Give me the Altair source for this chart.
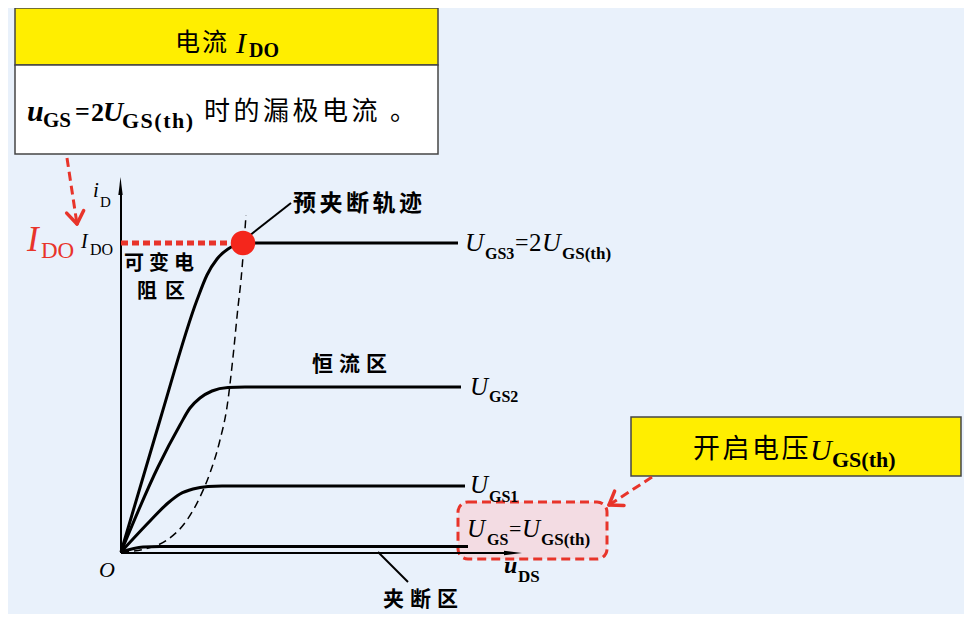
import altair as alt
import pandas as pd
import numpy as np

# ---------------- data (image-pixel coordinates) ----------------
# output characteristic curves i_D(u_DS)
ugs3_x = [121, 160, 197, 207, 217, 228, 240, 260, 458]
ugs3_y = [552, 420, 300, 275, 259, 249, 244, 243, 243]
ugs2_x = [121, 158, 180, 190, 200, 212, 228, 245, 461]
ugs2_y = [552, 467, 425, 408, 398, 391, 387.5, 387, 387]
ugs1_x = [121, 150, 168, 180, 193, 208, 222, 465]
ugs1_y = [552, 521, 503, 494, 489, 486.5, 486, 486]
ugs0_x = [121, 143, 160, 468]
ugs0_y = [552, 547, 546.5, 546.5]
# pre-pinch-off locus (dashed)
locus_x = [121, 145, 167, 187, 200, 210, 220, 227, 233, 238, 241, 243.5, 246]
locus_y = [552, 549, 540, 520, 497, 473, 440, 407, 357, 307, 280, 250, 215]

# I_DO point
ido_x, ido_y = 243, 243

# Chinese labels (text, start x, centre y, pitch, size, weight)
cjk_labels = [
    ("电流", 175, 43, 27, 25, "normal"),
    ("时的漏极电流", 204, 112, 29.5, 26, "normal"),
    ("。", 390, 112, 28, 26, "normal"),
    ("开启电压", 693, 450, 29.5, 27, "normal"),
    ("预夹断轨迹", 293, 204, 26.5, 23, "bold"),
    ("可变电", 124, 264, 25, 20, "bold"),
    ("阻区", 137, 292, 28, 20, "bold"),
    ("恒流区", 312, 365, 27, 21, "bold"),
    ("夹断区", 383, 600, 27, 21, "bold"),
]

# symbol pieces: (text, x, baseline y, size, style, weight, colour, extra letter spacing)
sym_pieces = [
    # header I_DO
    ("I", 236, 53, 30, "italic", "normal", "black", 0),
    ("DO", 249, 57, 20, "normal", "bold", "black", 0),
    # body u_GS = 2U_GS(th)
    ("u", 27, 121, 30, "italic", "bold", "black", 0),
    ("GS", 43, 127, 21, "normal", "bold", "black", 0),
    ("=", 75, 120, 26, "normal", "bold", "black", 0),
    ("2", 91, 121, 26, "normal", "bold", "black", 0),
    ("U", 103, 121, 28, "italic", "bold", "black", 0),
    ("GS(th)", 122, 128, 22, "normal", "bold", "black", 1.5),
    # red I_DO
    ("I", 27, 251, 35, "italic", "normal", "#E8342A", 0),
    ("DO", 41, 258, 23, "normal", "normal", "#E8342A", 0),
    # axis I_DO
    ("I", 81, 248, 20, "italic", "normal", "black", 0),
    ("DO", 90, 255, 16, "normal", "normal", "black", 0),
    # i_D
    ("i", 93, 197, 21, "italic", "normal", "black", 0),
    ("D", 100, 207, 15, "normal", "normal", "black", 0),
    # origin
    ("O", 99, 577, 22, "italic", "normal", "black", 0),
    # u_DS
    ("u", 504, 573, 24, "italic", "bold", "black", 0),
    ("DS", 518, 582, 17, "normal", "bold", "black", 0),
    # U_GS3 = 2U_GS(th)
    ("U", 465, 251, 26, "italic", "normal", "black", 0),
    ("GS3", 485, 259, 16, "normal", "bold", "black", 0),
    ("=", 515, 250, 24, "normal", "normal", "black", 0),
    ("2", 529, 251, 25, "normal", "normal", "black", 0),
    ("U", 542, 251, 26, "italic", "normal", "black", 0),
    ("GS(th)", 562, 259, 17, "normal", "bold", "black", 0),
    # U_GS2, U_GS1
    ("U", 470, 395, 25, "italic", "normal", "black", 0),
    ("GS2", 489, 402, 16, "normal", "bold", "black", 0),
    ("U", 470, 493, 25, "italic", "normal", "black", 0),
    ("GS1", 489, 502, 16, "normal", "bold", "black", 0),
    # U_GS = U_GS(th)
    ("U", 467, 537, 25, "italic", "normal", "black", 0),
    ("GS", 487, 545, 16, "normal", "bold", "black", 0),
    ("=", 509, 536, 22, "normal", "normal", "black", 0),
    ("U", 522, 537, 25, "italic", "normal", "black", 0),
    ("GS(th)", 541, 545, 17, "normal", "bold", "black", 0),
    # 开启电压 U_GS(th)
    ("U", 810, 460, 30, "italic", "normal", "black", 0),
    ("GS(th)", 832, 467, 22, "normal", "bold", "black", 0),
]

# boxes: (x, x2, y, y2, fill, stroke)
boxes = [
    (15, 438, 8, 65, "#FFEE00", "#454545"),
    (15, 438, 65, 154, "#FFFFFF", "#454545"),
    (631, 961, 417, 476, "#FFEE00", "#454545"),
]
pink_box = (458, 607, 502, 559)

# red dashed arrows: (from x, from y, tip x, tip y)
red_arrows = [(67, 158, 77, 224), (652, 477, 609, 505)]
# thin pointer lines
pointers = [(249, 236, 291, 203), (378, 552, 408, 582)]

# Times / Liberation Serif advance widths (per em) for the subscript glyphs
ADV = {
    "normal": {"G": .722, "S": .556, "D": .722, "O": .722, "(": .333, ")": .333,
               "t": .278, "h": .5, "1": .5, "2": .5, "3": .5},
    "bold": {"G": .778, "S": .556, "D": .722, "O": .778, "(": .333, ")": .333,
             "t": .333, "h": .556, "1": .5, "2": .5, "3": .5},
}

# ---------------- chart ----------------
W, H = 956, 606
xs = alt.Scale(domain=[8, 964], nice=False, zero=False)
ys = alt.Scale(domain=[8, 614], nice=False, zero=False, reverse=True)
RED = "#E8342A"
SERIF = "Liberation Serif"
CJK = "Noto Sans CJK SC"


def ex(f="x"):
    return alt.X(f"{f}:Q", scale=xs, axis=None)


def ey(f="y"):
    return alt.Y(f"{f}:Q", scale=ys, axis=None)


layers = []

# boxes
bdf = pd.DataFrame(boxes, columns=["x", "x2", "y", "y2", "fill", "stroke"])
for _, r in bdf.iterrows():
    layers.append(
        alt.Chart(pd.DataFrame([r])).mark_rect(fill=r["fill"], stroke=r["stroke"], strokeWidth=1.5)
        .encode(x=ex(), x2="x2:Q", y=ey(), y2="y2:Q")
    )
pdf = pd.DataFrame([pink_box], columns=["x", "x2", "y", "y2"])
layers.append(
    alt.Chart(pdf).mark_rect(fill="#F3DCE3", stroke=RED, strokeWidth=3, strokeDash=[9, 5],
                             cornerRadius=10)
    .encode(x=ex(), x2="x2:Q", y=ey(), y2="y2:Q")
)

# axes
axes_df = pd.DataFrame({"x": [121, 121], "y": [553, 553], "x2": [121, 506], "y2": [190, 553]})
layers.append(alt.Chart(axes_df).mark_rule(color="black", strokeWidth=2)
              .encode(x=ex(), y=ey(), x2="x2:Q", y2="y2:Q"))
head_path = "M0,-1L0.24,1L-0.24,1Z"
heads_df = pd.DataFrame({"x": [120.5, 513], "y": [186, 553], "a": [0, 90]})
layers.append(alt.Chart(heads_df).mark_point(shape=head_path, filled=True, color="black",
                                             size=324, opacity=1)
              .encode(x=ex(), y=ey(), angle=alt.Angle("a:Q", scale=None)))

# curves
curves = []
for name, cx, cy in [("ugs3", ugs3_x, ugs3_y), ("ugs2", ugs2_x, ugs2_y),
                     ("ugs1", ugs1_x, ugs1_y), ("ugs0", ugs0_x, ugs0_y)]:
    curves.append(pd.DataFrame({"x": cx, "y": cy, "s": name, "o": range(len(cx))}))
cdf = pd.concat(curves)
layers.append(alt.Chart(cdf).mark_line(color="black", strokeWidth=3, interpolate="monotone")
              .encode(x=ex(), y=ey(), detail="s:N", order="o:Q"))
ldf = pd.DataFrame({"x": locus_x, "y": locus_y, "o": range(len(locus_x))})
layers.append(alt.Chart(ldf).mark_line(color="black", strokeWidth=1.5, strokeDash=[8, 5],
                                       interpolate="monotone")
              .encode(x=ex(), y=ey(), order="o:Q"))

# red dotted I_DO level
dot_df = pd.DataFrame({"x": [121], "x2": [ido_x - 4], "y": [ido_y], "y2": [ido_y]})
layers.append(alt.Chart(dot_df).mark_rule(color=RED, strokeWidth=5, strokeDash=[7, 4])
              .encode(x=ex(), x2="x2:Q", y=ey(), y2="y2:Q"))

# pointer lines
pt_df = pd.DataFrame(pointers, columns=["x", "y", "x2", "y2"])
layers.append(alt.Chart(pt_df).mark_rule(color="black", strokeWidth=2)
              .encode(x=ex(), y=ey(), x2="x2:Q", y2="y2:Q"))

# red arrows
ar_df = pd.DataFrame(red_arrows, columns=["x", "y", "x2", "y2"])
layers.append(alt.Chart(ar_df).mark_rule(color=RED, strokeWidth=3, strokeDash=[9, 5])
              .encode(x=ex(), y=ey(), x2="x2:Q", y2="y2:Q"))
arms = []
for fx, fy, tx, ty in red_arrows:
    d = np.array([fx - tx, fy - ty], dtype=float)
    d /= np.hypot(*d)
    for s in (1, -1):
        a = np.radians(35 * s)
        rot = np.array([d[0] * np.cos(a) - d[1] * np.sin(a), d[0] * np.sin(a) + d[1] * np.cos(a)])
        arms.append((tx, ty, tx + 15 * rot[0], ty + 15 * rot[1]))
arm_df = pd.DataFrame(arms, columns=["x", "y", "x2", "y2"])
layers.append(alt.Chart(arm_df).mark_rule(color=RED, strokeWidth=3.5, strokeCap="round")
              .encode(x=ex(), y=ey(), x2="x2:Q", y2="y2:Q"))

# I_DO point
layers.append(alt.Chart(pd.DataFrame({"x": [ido_x], "y": [ido_y]}))
              .mark_point(shape="circle", filled=True, color="#F4261C", size=600, opacity=1)
              .encode(x=ex(), y=ey()))

# Chinese labels (one glyph per row to keep the wide character spacing)
rows = []
for txt, x0, yc, pitch, size, weight in cjk_labels:
    for i, ch in enumerate(txt):
        rows.append({"t": ch, "x": x0 + i * pitch, "y": yc, "s": size, "w": weight})
cjk_df = pd.DataFrame(rows)
for w in ["normal", "bold"]:
    sub = cjk_df[cjk_df.w == w]
    layers.append(alt.Chart(sub).mark_text(font=CJK, fontWeight=w, align="left", baseline="middle",
                                           color="black")
                  .encode(x=ex(), y=ey(), text="t:N", size=alt.Size("s:Q", scale=None)))

# math symbols (letter-spaced pieces are split into glyphs using the font advance widths)
srows = []
for t, x, y, s, st, w, c, sp in sym_pieces:
    if sp > 0:
        cx = x
        for ch in t:
            srows.append({"t": ch, "x": cx, "y": y, "s": s, "st": st, "w": w, "c": c})
            cx += ADV[w][ch] * s + sp
    else:
        srows.append({"t": t, "x": x, "y": y, "s": s, "st": st, "w": w, "c": c})
sym_df = pd.DataFrame(srows)
for (st, w), sub in sym_df.groupby(["st", "w"]):
    layers.append(alt.Chart(sub).mark_text(font=SERIF, fontStyle=st, fontWeight=w, align="left",
                                           baseline="alphabetic")
                  .encode(x=ex(), y=ey(), text="t:N", size=alt.Size("s:Q", scale=None),
                          color=alt.Color("c:N", scale=None)))

chart = (
    alt.layer(*layers)
    .properties(width=W, height=H, padding=0, autosize=alt.AutoSizeParams(type="none"),
                background="#E9F1FB")
    .configure_view(stroke=None)
)

chart.save("out.html", embed_options={"renderer": "svg", "actions": False})
